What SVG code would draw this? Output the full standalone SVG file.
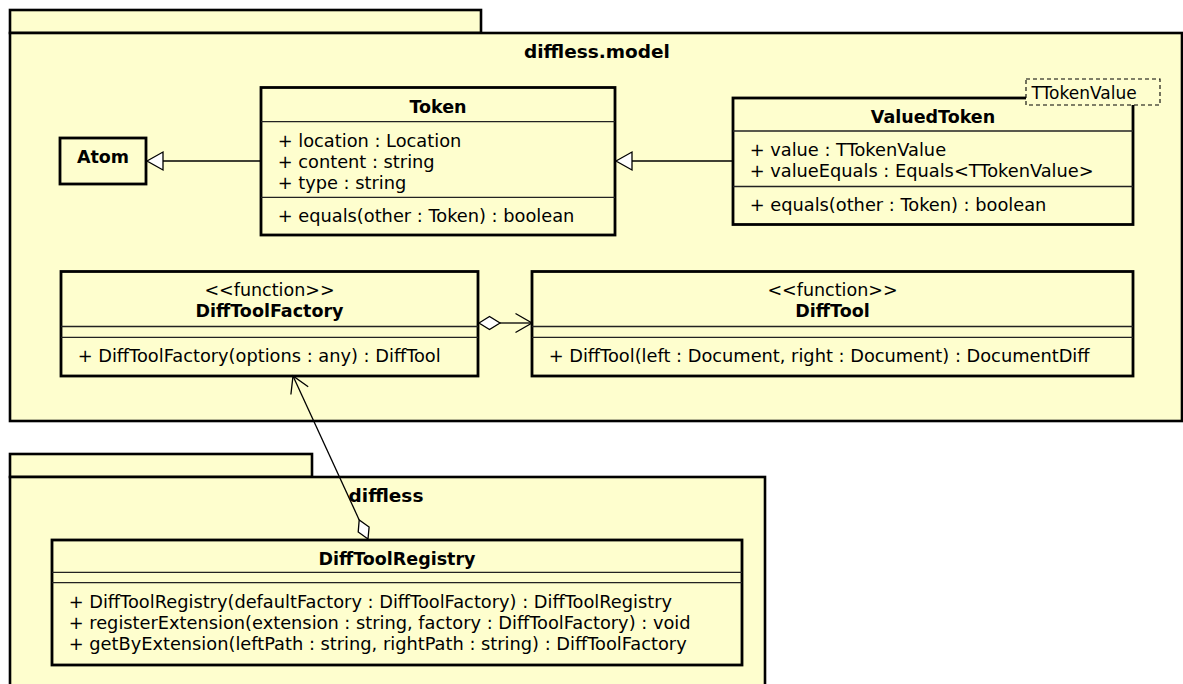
<svg xmlns="http://www.w3.org/2000/svg" width="1183" height="684" viewBox="0 0 1183 684">
  <style>
    .pkg { fill: #FEFECE; stroke: #000; stroke-width: 2.6; }
    .box { fill: #FEFECE; stroke: #000; stroke-width: 2.8; }
    .sep { stroke: #222; stroke-width: 1.3; fill: none; }
    .tpl { fill: #FEFECE; stroke: #000; stroke-width: 1.1; stroke-dasharray: 4 3; }
    .ln  { stroke: #000; stroke-width: 1.3; fill: none; }
    .tri { fill: #FFF; stroke: #000; stroke-width: 1.3; }
    text { font-family: "DejaVu Sans", "Liberation Sans", sans-serif; fill: #000; }
    .title { font-size: 18.5px; font-weight: bold; text-anchor: middle; }
    .name  { font-size: 17.5px; font-weight: bold; text-anchor: middle; }
    .st    { font-size: 17.5px; text-anchor: middle; }
    .mem   { font-size: 17.8px; }
    .tv    { font-size: 17px; }
  </style>

  <!-- package diffless.model -->
  <g id="pkg-diffless-model">
    <rect class="pkg" x="10" y="10" width="471" height="23"/>
    <rect class="pkg" x="10" y="33" width="1172" height="388"/>
    <text class="title" x="597" y="57.5">diffless.model</text>
  </g>

  <!-- package diffless -->
  <g id="pkg-diffless">
    <rect class="pkg" x="10" y="454" width="302" height="23"/>
    <rect class="pkg" x="10" y="477" width="755" height="230"/>
    <text class="title" x="386" y="501.7">diffless</text>
  </g>

  <!-- Atom -->
  <g id="atom">
    <rect class="box" x="60" y="138" width="86" height="46"/>
    <text class="name" x="103" y="162.7">Atom</text>
  </g>

  <!-- Token -->
  <g id="token">
    <rect class="box" x="261" y="87.5" width="354" height="147.5"/>
    <text class="name" x="438" y="112.7">Token</text>
    <line class="sep" x1="261" y1="121.7" x2="615" y2="121.7"/>
    <text class="mem" x="277.7" y="146.5">+ location : Location</text>
    <text class="mem" x="277.7" y="167.5">+ content : string</text>
    <text class="mem" x="277.7" y="188.5">+ type : string</text>
    <line class="sep" x1="261" y1="197.3" x2="615" y2="197.3"/>
    <text class="mem" x="277.7" y="222">+ equals(other : Token) : boolean</text>
  </g>

  <!-- ValuedToken<TTokenValue> -->
  <g id="valued-token">
    <rect class="box" x="733" y="98" width="400" height="126.5"/>
    <text class="name" x="933" y="123.3">ValuedToken</text>
    <line class="sep" x1="733" y1="131" x2="1133" y2="131"/>
    <text class="mem" x="749.7" y="155.5">+ value : TTokenValue</text>
    <text class="mem" x="749.7" y="176.5">+ valueEquals : Equals&lt;TTokenValue&gt;</text>
    <line class="sep" x1="733" y1="186.5" x2="1133" y2="186.5"/>
    <text class="mem" x="749.7" y="211">+ equals(other : Token) : boolean</text>
    <rect class="tpl" x="1026" y="79" width="134" height="26"/>
    <text class="tv" x="1031.5" y="99">TTokenValue</text>
  </g>

  <!-- DiffToolFactory -->
  <g id="diff-tool-factory">
    <rect class="box" x="61" y="271.5" width="417" height="104.5"/>
    <text class="st" x="269.5" y="295.5">&lt;&lt;function&gt;&gt;</text>
    <text class="name" x="269.5" y="316.7">DiffToolFactory</text>
    <line class="sep" x1="61" y1="326.5" x2="478" y2="326.5"/>
    <line class="sep" x1="61" y1="337.3" x2="478" y2="337.3"/>
    <text class="mem" x="77.7" y="361.5">+ DiffToolFactory(options : any) : DiffTool</text>
  </g>

  <!-- DiffTool -->
  <g id="diff-tool">
    <rect class="box" x="532" y="271.5" width="601" height="104.5"/>
    <text class="st" x="832.5" y="295.5">&lt;&lt;function&gt;&gt;</text>
    <text class="name" x="832.5" y="316.7">DiffTool</text>
    <line class="sep" x1="532" y1="326.5" x2="1133" y2="326.5"/>
    <line class="sep" x1="532" y1="337.3" x2="1133" y2="337.3"/>
    <text class="mem" x="548.7" y="361.5">+ DiffTool(left : Document, right : Document) : DocumentDiff</text>
  </g>

  <!-- DiffToolRegistry -->
  <g id="diff-tool-registry">
    <rect class="box" x="52" y="540" width="690" height="125"/>
    <text class="name" x="397" y="565.3">DiffToolRegistry</text>
    <line class="sep" x1="52" y1="572.3" x2="742" y2="572.3"/>
    <line class="sep" x1="52" y1="582.7" x2="742" y2="582.7"/>
    <text class="mem" x="68.7" y="608">+ DiffToolRegistry(defaultFactory : DiffToolFactory) : DiffToolRegistry</text>
    <text class="mem" x="68.7" y="629">+ registerExtension(extension : string, factory : DiffToolFactory) : void</text>
    <text class="mem" x="68.7" y="650">+ getByExtension(leftPath : string, rightPath : string) : DiffToolFactory</text>
  </g>

  <!-- relations -->
  <g id="connectors">
    <!-- Token extends Atom -->
    <line class="ln" x1="163" y1="161" x2="261" y2="161"/>
    <polygon class="tri" points="147,161 163,152 163,170"/>
    <!-- ValuedToken extends Token -->
    <line class="ln" x1="632" y1="161" x2="733" y2="161"/>
    <polygon class="tri" points="616,161 632,152 632,170"/>
    <!-- DiffToolFactory o-> DiffTool -->
    <line class="ln" x1="500" y1="323" x2="532" y2="323"/>
    <polygon class="tri" points="479,323 489.5,316.5 500,323 489.5,329.5"/>
    <polyline class="ln" points="515.5,313.5 532,323 515.5,332.5"/>
    <!-- DiffToolRegistry o-> DiffToolFactory -->
    <line class="ln" x1="293" y1="376" x2="359.2" y2="519.9"/>
    <polygon class="tri" points="368,539 358.2,532 359.2,519.9 369.1,527"/>
    <polyline class="ln" points="290.9,394.5 293,376 308.2,386.7"/>
  </g>
</svg>
